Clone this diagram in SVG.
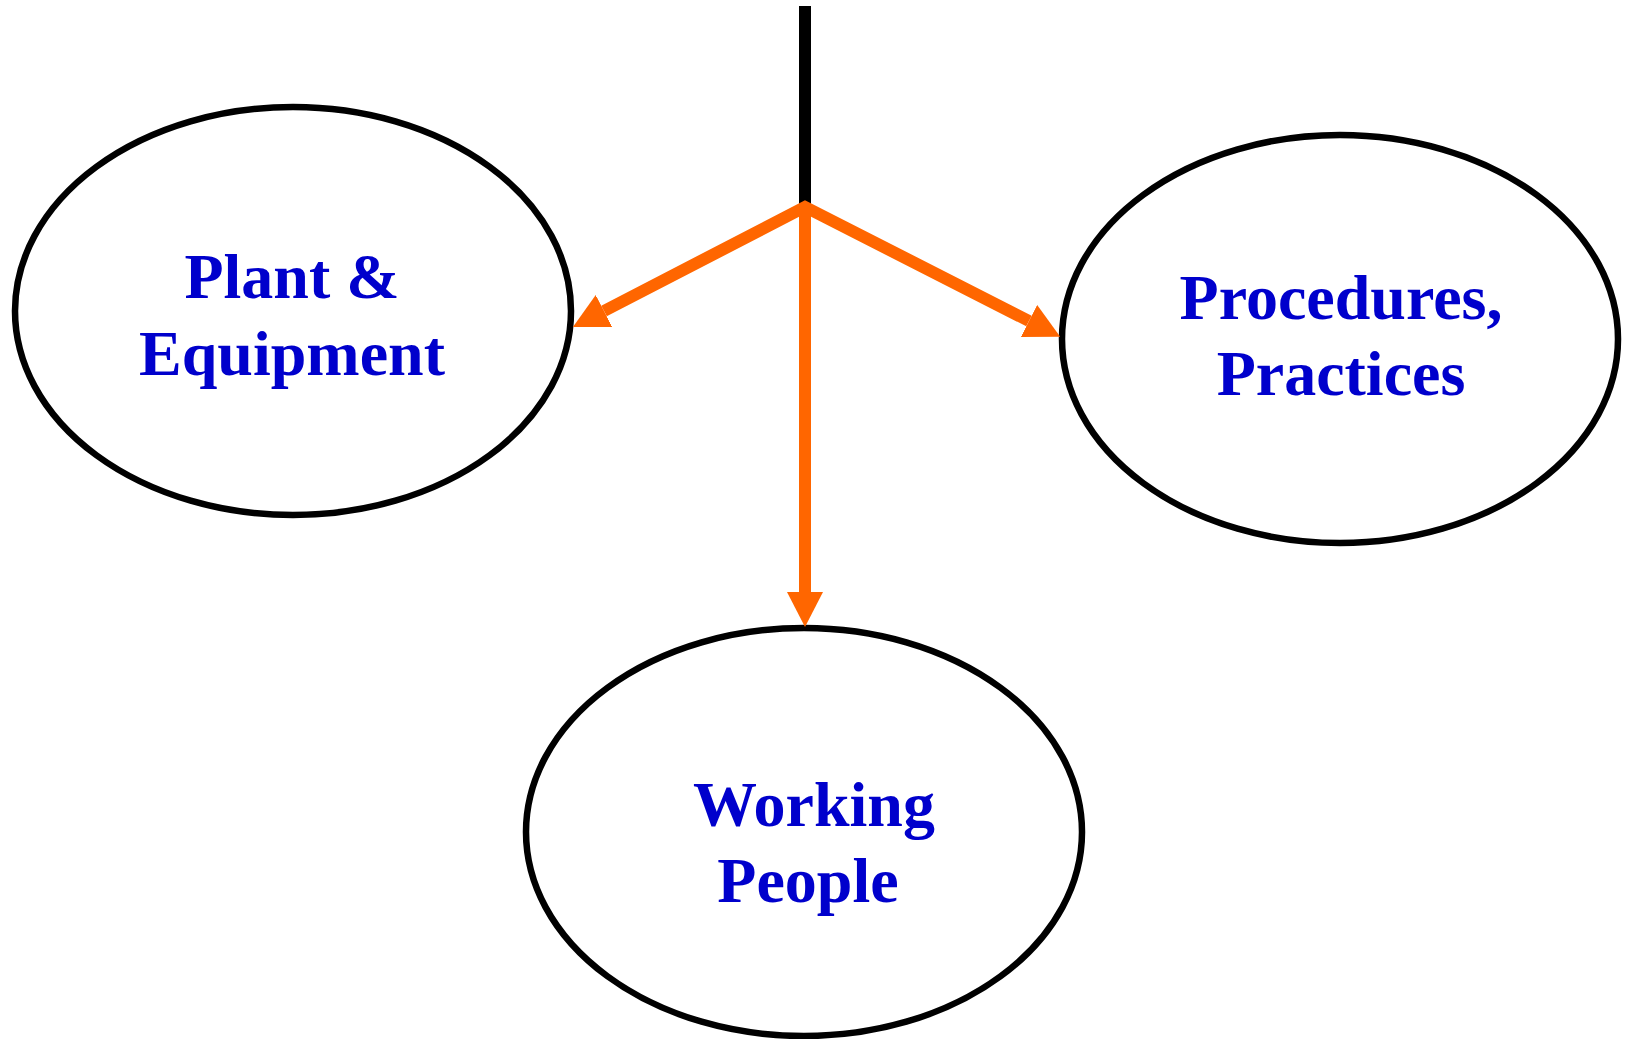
<svg xmlns="http://www.w3.org/2000/svg" width="1625" height="1039" viewBox="0 0 1625 1039">
  <style>
    .node { fill: #FFFFFF; stroke: #000000; stroke-width: 6.5; }
    .label { font-family: "Liberation Serif", "Times New Roman", serif; font-weight: bold; font-size: 64px; fill: #0000CC; text-anchor: middle; }
    .flow { fill: none; stroke: #FF6600; stroke-width: 12; stroke-linejoin: miter; }
    .stem { stroke: #000000; stroke-width: 12; }
  </style>
  <defs>
    <marker id="head" viewBox="0 0 35 36" refX="0" refY="18" markerWidth="35" markerHeight="36" markerUnits="userSpaceOnUse" orient="auto-start-reverse">
      <path d="M0,0 L35,18 L0,36 Z" fill="#FF6600"/>
    </marker>
  </defs>
  <rect width="1625" height="1039" fill="#FFFFFF"/>

  <g id="node-plant">
    <ellipse class="node" cx="293" cy="311" rx="278" ry="204"/>
    <text class="label" x="292" y="298">Plant &amp;</text>
    <text class="label" x="292" y="375">Equipment</text>
  </g>

  <g id="node-procedures">
    <ellipse class="node" cx="1340" cy="339" rx="278" ry="204"/>
    <text class="label" x="1341" y="319">Procedures,</text>
    <text class="label" x="1341" y="395">Practices</text>
  </g>

  <g id="node-people">
    <ellipse class="node" cx="804" cy="832" rx="278" ry="204"/>
    <text class="label" x="814" y="826">Working</text>
    <text class="label" x="808" y="902">People</text>
  </g>

  <g id="connectors">
    <line class="stem" x1="805" y1="6" x2="805" y2="211"/>
    <path class="flow" d="M604,311 L805,207 L1029,321" marker-start="url(#head)" marker-end="url(#head)"/>
    <path class="flow" d="M805,207 L805,592" marker-end="url(#head)"/>
  </g>
</svg>
